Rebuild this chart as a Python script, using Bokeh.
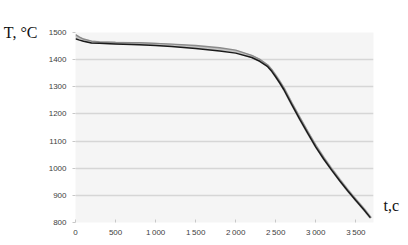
from bokeh.plotting import figure
from bokeh.models import LinearAxis, CustomJSTickFormatter, FixedTicker, Range1d
from bokeh.embed import file_html
from bokeh.resources import INLINE

# Series data (time, s ; temperature, °C)
t_black = [0, 50, 100, 200, 300, 500, 800, 1000, 1200, 1500, 1800, 2000, 2200, 2300, 2400, 2450, 2500, 2550, 2600, 2700, 2800, 2900, 3000, 3100, 3200, 3300, 3400, 3500, 3600, 3680]
T_black = [1477, 1472, 1468, 1461, 1460, 1458, 1455, 1452, 1448, 1441, 1432, 1424, 1408, 1394, 1374, 1357, 1336, 1314, 1290, 1234, 1180, 1128, 1078, 1033, 992, 953, 916, 881, 847, 818]

t_gray = [0, 50, 100, 200, 300, 500, 800, 1000, 1200, 1500, 1800, 2000, 2200, 2300, 2400, 2450, 2500, 2550, 2600, 2700, 2800, 2900, 3000, 3100, 3200, 3300, 3400, 3500, 3600, 3690]
T_gray = [1492, 1483, 1476, 1468, 1465, 1463, 1462, 1460, 1457, 1452, 1444, 1435, 1416, 1401, 1380, 1363, 1342, 1320, 1297, 1241, 1187, 1135, 1084, 1039, 997, 958, 920, 885, 851, 816]

t_light = [0, 50, 100, 200, 300, 500, 800, 1000, 1200, 1500, 1800, 2000, 2200, 2300, 2400, 2450, 2500, 2550, 2600, 2700, 2800, 2900, 3000, 3100, 3200, 3300, 3400, 3500, 3600, 3685]
T_light = [1488, 1479, 1472, 1465, 1463, 1461, 1459, 1457, 1453, 1447, 1438, 1430, 1412, 1398, 1377, 1360, 1339, 1317, 1293, 1237, 1183, 1131, 1081, 1036, 995, 956, 918, 883, 849, 817]

x_ticks = [0, 500, 1000, 1500, 2000, 2500, 3000, 3500]
y_ticks = [800, 900, 1000, 1100, 1200, 1300, 1400, 1500]

y_title = "T, °C"
x_title = "t,c"
y_title_at = 1500
x_title_at = 862

p = figure(frame_width=298, frame_height=190, output_backend="svg", toolbar_location=None,
           x_range=Range1d(0, 3720), y_range=Range1d(800, 1500),
           min_border_left=74, min_border_right=30, min_border_top=32, min_border_bottom=0)
p.background_fill_color = "#f5f5f5"
p.border_fill_color = "white"
p.outline_line_color = None

p.xgrid.visible = False
p.ygrid.grid_line_color = "#d6d6d6"
p.ygrid.grid_line_width = 1.5

for ax in (p.xaxis[0], p.yaxis[0]):
    ax.axis_line_color = None
    ax.minor_tick_line_color = None
    ax.major_tick_line_color = "#c8c8c8"
    ax.major_label_text_font = "Liberation Sans"
    ax.major_label_text_font_size = "8px"
    ax.major_label_text_color = "#404040"

p.xaxis[0].ticker = FixedTicker(ticks=x_ticks)
p.yaxis[0].ticker = FixedTicker(ticks=y_ticks)
p.xaxis[0].major_tick_in = 3
p.xaxis[0].major_tick_out = 0
p.yaxis[0].major_tick_in = 0
p.yaxis[0].major_tick_out = 3
p.xaxis[0].major_label_standoff = 5
p.yaxis[0].major_label_standoff = 6
p.xaxis[0].formatter = CustomJSTickFormatter(code="""
return tick >= 1000 ? Math.floor(tick/1000) + "\u2009" + String(tick % 1000).padStart(3, "0") : String(tick);
""")

def title_axis(at, text, standoff):
    ax = LinearAxis(ticker=FixedTicker(ticks=[at]), major_label_overrides={at: text})
    ax.axis_line_color = None
    ax.major_tick_line_color = None
    ax.minor_tick_line_color = None
    ax.major_tick_in = 0
    ax.major_tick_out = 0
    ax.major_label_standoff = standoff
    ax.major_label_text_font = "Liberation Serif"
    ax.major_label_text_font_size = "16px"
    ax.major_label_text_color = "#111111"
    return ax

p.add_layout(title_axis(y_title_at, y_title, 8), "left")
p.add_layout(title_axis(x_title_at, x_title, 10), "right")

p.line(t_light, T_light, line_color="#c4c4c4", line_width=3)
p.line(t_gray, T_gray, line_color="#8a8a8a", line_width=1.4)
p.line(t_black, T_black, line_color="#1a1a1a", line_width=1.5)

open("out.html", "w").write(file_html(p, INLINE))
